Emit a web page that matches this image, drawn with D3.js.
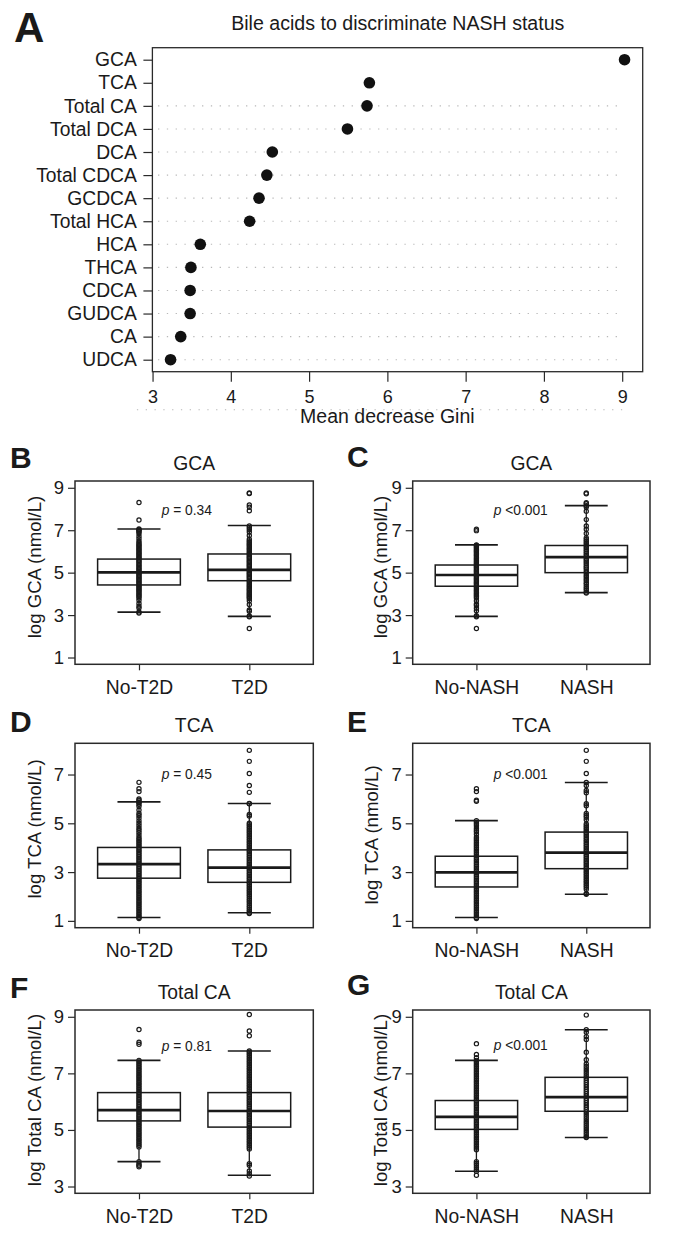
<!DOCTYPE html>
<html><head><meta charset="utf-8">
<script src="https://cdn.jsdelivr.net/npm/d3@7"></script>
<style>
body{margin:0;background:#fff}
svg{display:block}
text{font-family:"Liberation Sans",Arial,Helvetica,sans-serif;fill:#1a1a1a}
</style>
</head><body>
<svg id="chart" width="692" height="1238"></svg>
<script>
// ---------- Panel A data ----------
const dotCategories = ["GCA","TCA","Total CA","Total DCA","DCA","Total CDCA","GCDCA","Total HCA","HCA","THCA","CDCA","GUDCA","CA","UDCA"];
const dotValues = [9.03,5.77,5.74,5.49,4.53,4.46,4.36,4.24,3.61,3.49,3.48,3.48,3.36,3.23];
const dotTicks = [3,4,5,6,7,8,9];
const dotTitle = "Bile acids to discriminate NASH status";
const dotXLabel = "Mean decrease Gini";

// ---------- Box panel data ----------
const panelLetters = ["B","C","D","E","F","G"];
const panelTitles = ["GCA","GCA","TCA","TCA","Total CA","Total CA"];
const panelYLabels = ["log GCA (nmol/L)","log GCA (nmol/L)","log TCA (nmol/L)","log TCA (nmol/L)","log Total CA (nmol/L)","log Total CA (nmol/L)"];
const groupsT2D = ["No-T2D","T2D"];
const groupsNASH = ["No-NASH","NASH"];
const pLabels = [" = 0.34"," <0.001"," = 0.45"," <0.001"," = 0.81"," <0.001"];
const ticksGCA = [1,3,5,7,9];
const ticksTCA = [1,3,5,7];
const ticksTotalCA = [3,5,7,9];
const limsGCA = [1,9];
const limsTCA = [1,8];
const limsTotalCA = [3,9];

// box stats: [lower whisker, Q1, median, Q3, upper whisker]
const statsB = [[3.14,4.42,5.01,5.64,7.06],[2.94,4.62,5.13,5.88,7.22]];
const statsC = [[2.94,4.36,4.89,5.36,6.31],[4.06,5.00,5.73,6.28,8.16]];
const statsD = [[1.14,2.75,3.33,4.01,5.88],[1.33,2.58,3.18,3.91,5.81]];
const statsE = [[1.14,2.39,2.99,3.65,5.11],[2.09,3.14,3.80,4.64,6.67]];
const statsF = [[3.88,5.32,5.70,6.32,7.46],[3.40,5.10,5.67,6.32,7.79]];
const statsG = [[3.54,5.02,5.46,6.04,7.46],[4.73,5.66,6.16,6.86,8.54]];

// individual points
const ptsB_noT2D = [3.10,3.15,3.33,3.42,3.55,3.70,3.80,3.87,3.93,3.99,4.05,4.12,4.18,4.24,4.31,4.37,4.43,4.50,4.56,4.62,4.69,4.75,4.81,4.88,4.94,5.00,5.07,5.13,5.19,5.26,5.32,5.38,5.45,5.51,5.57,5.64,5.70,5.76,5.83,5.89,5.95,6.02,6.08,6.14,6.21,6.27,6.33,6.40,6.48,6.60,6.72,6.85,6.93,6.98,7.02,7.06,7.48,8.31];
const ptsB_T2D = [2.37,2.92,2.96,3.18,3.24,3.50,3.68,3.78,3.84,3.90,3.96,4.02,4.08,4.15,4.21,4.27,4.34,4.40,4.46,4.53,4.59,4.65,4.72,4.78,4.84,4.91,4.97,5.03,5.10,5.16,5.22,5.29,5.35,5.41,5.48,5.54,5.60,5.67,5.73,5.79,5.86,5.92,5.98,6.05,6.11,6.17,6.24,6.30,6.36,6.43,6.50,6.58,6.75,6.92,7.02,7.12,7.20,7.92,8.08,8.19,8.73,8.76];
const ptsC_noNASH = [2.37,2.92,2.97,3.20,3.32,3.45,3.52,3.68,3.80,3.88,3.94,4.00,4.07,4.13,4.19,4.26,4.32,4.38,4.45,4.51,4.57,4.64,4.70,4.76,4.83,4.89,4.95,5.02,5.08,5.14,5.21,5.27,5.33,5.40,5.46,5.52,5.59,5.65,5.71,5.78,5.84,5.90,5.97,6.03,6.09,6.16,6.22,6.28,6.31,6.98,7.05];
const ptsC_NASH = [4.04,4.08,4.18,4.26,4.35,4.45,4.52,4.62,4.70,4.80,4.88,4.98,5.08,5.18,5.25,5.33,5.42,5.50,5.58,5.66,5.75,5.84,5.92,6.00,6.08,6.16,6.24,6.32,6.40,6.48,6.56,6.64,6.85,7.05,7.20,7.50,7.90,8.10,8.16,8.25,8.30,8.72,8.76];
const ptsD_noT2D = [1.10,1.14,1.20,1.27,1.34,1.41,1.48,1.55,1.62,1.69,1.76,1.83,1.90,1.97,2.04,2.11,2.18,2.25,2.32,2.39,2.46,2.53,2.60,2.67,2.74,2.81,2.88,2.95,3.02,3.09,3.16,3.23,3.30,3.37,3.44,3.51,3.58,3.65,3.72,3.79,3.86,3.93,4.00,4.07,4.14,4.21,4.28,4.35,4.42,4.52,4.62,4.72,4.80,4.90,5.00,5.10,5.22,5.32,5.40,5.55,5.70,5.78,5.85,5.88,5.95,6.00,6.30,6.42,6.68];
const ptsD_T2D = [1.30,1.33,1.40,1.47,1.55,1.62,1.70,1.78,1.85,1.92,2.00,2.07,2.14,2.21,2.28,2.35,2.42,2.49,2.56,2.63,2.70,2.77,2.84,2.91,2.98,3.05,3.12,3.19,3.26,3.33,3.40,3.47,3.54,3.61,3.68,3.75,3.82,3.89,3.96,4.03,4.10,4.17,4.24,4.31,4.38,4.45,4.52,4.59,4.66,4.73,4.80,4.87,4.94,5.00,5.30,5.36,5.80,5.81,6.27,6.55,7.04,7.54,7.99];
const ptsE_noNASH = [1.10,1.14,1.21,1.28,1.35,1.42,1.49,1.56,1.63,1.70,1.77,1.84,1.91,1.98,2.05,2.12,2.19,2.26,2.33,2.40,2.47,2.54,2.61,2.68,2.75,2.82,2.89,2.96,3.03,3.10,3.17,3.24,3.31,3.38,3.45,3.52,3.59,3.66,3.73,3.80,3.87,3.94,4.01,4.08,4.15,4.22,4.29,4.36,4.43,4.55,4.65,4.72,4.80,4.90,4.98,5.05,5.11,5.90,5.95,6.30,6.42];
const ptsE_NASH = [2.09,2.12,2.30,2.38,2.45,2.52,2.59,2.66,2.73,2.80,2.87,2.94,3.01,3.08,3.15,3.22,3.29,3.36,3.43,3.50,3.57,3.64,3.71,3.78,3.85,3.92,3.99,4.06,4.13,4.20,4.27,4.34,4.41,4.48,4.55,4.62,4.69,4.76,4.83,4.90,4.97,5.15,5.25,5.32,5.40,5.72,5.80,6.25,6.35,6.55,6.67,7.04,7.54,7.99];
const ptsF_noT2D = [3.70,3.75,3.80,3.88,4.40,4.46,4.52,4.58,4.64,4.70,4.76,4.82,4.88,4.94,5.00,5.06,5.12,5.18,5.24,5.30,5.36,5.42,5.48,5.54,5.60,5.66,5.72,5.78,5.84,5.90,5.96,6.02,6.08,6.14,6.20,6.26,6.32,6.38,6.44,6.50,6.56,6.62,6.68,6.74,6.80,6.86,6.92,6.98,7.04,7.10,7.16,7.22,7.28,7.34,7.40,7.46,8.03,8.10,8.55];
const ptsF_T2D = [3.37,3.45,3.55,3.75,3.81,4.33,4.39,4.45,4.51,4.57,4.63,4.69,4.75,4.81,4.87,4.93,4.99,5.05,5.11,5.17,5.23,5.29,5.35,5.41,5.47,5.53,5.59,5.65,5.71,5.77,5.83,5.89,5.95,6.01,6.07,6.13,6.19,6.25,6.31,6.37,6.43,6.49,6.55,6.61,6.67,6.73,6.79,6.85,6.91,6.97,7.03,7.09,7.15,7.21,7.27,7.33,7.39,7.45,7.51,7.57,7.63,7.69,7.75,7.79,8.33,8.50,9.08];
const ptsG_noNASH = [3.40,3.54,3.60,3.68,3.76,3.82,3.88,4.30,4.36,4.42,4.48,4.54,4.60,4.66,4.72,4.78,4.84,4.90,4.96,5.02,5.08,5.14,5.20,5.26,5.32,5.38,5.44,5.50,5.56,5.62,5.68,5.74,5.80,5.86,5.92,5.98,6.04,6.10,6.16,6.22,6.28,6.34,6.40,6.46,6.52,6.58,6.64,6.70,6.76,6.82,6.88,6.94,7.00,7.06,7.12,7.18,7.24,7.30,7.36,7.42,7.46,7.55,7.67,8.05];
const ptsG_NASH = [4.73,4.76,4.84,4.92,5.00,5.08,5.16,5.24,5.32,5.40,5.48,5.56,5.64,5.72,5.80,5.88,5.96,6.04,6.12,6.20,6.28,6.36,6.44,6.52,6.60,6.68,6.76,6.84,6.92,7.00,7.08,7.16,7.24,7.33,7.48,7.75,8.20,8.30,8.45,8.54,9.06];

// ---------- drawing ----------
const svg = d3.select("#chart");
const INK = "#1a1a1a";
const FONT = '"Liberation Sans",Arial,sans-serif';

// ----- Panel A -----
(function(){
  const x0 = 152.4, x1 = 642.7, y0 = 47.7, y1 = 371.7;
  const n = dotCategories.length;
  const ext = d3.extent(dotValues);
  const pad = (ext[1]-ext[0])*0.04;
  const x = d3.scaleLinear().domain([ext[0]-pad, ext[1]+pad]).range([x0, x1]);
  const y = d3.scaleLinear().domain([1-(n-1)*0.04, n+(n-1)*0.04]).range([y1, y0]);
  const row = i => n - i;
  const g = svg.append("g");

  // dotted guide lines (rows 12..1 inside the box, plus one below the tick labels)
  const guideRows = d3.range(1, n-1);
  g.selectAll("line.guide").data(guideRows).join("line")
    .attr("x1", x(3.07)).attr("x2", x(9))
    .attr("y1", r => y(r)).attr("y2", r => y(r))
    .attr("stroke", "#b8b8b8").attr("stroke-width", 1.1)
    .attr("stroke-dasharray", "1.3,7.5");
  g.append("line").attr("x1", x(2.8)).attr("x2", x(9)).attr("y1", y(-1.17)).attr("y2", y(-1.17))
    .attr("stroke", "#b8b8b8").attr("stroke-width", 1.1).attr("stroke-dasharray", "1.3,7.5");

  g.append("rect").attr("x", x0).attr("y", y0).attr("width", x1-x0).attr("height", y1-y0)
    .attr("fill", "none").attr("stroke", "#2a2a2a").attr("stroke-width", 1.3);

  const ax = g.append("g").attr("transform", `translate(0,${y1})`)
    .call(d3.axisBottom(x).tickValues(dotTicks).tickFormat(d3.format("d")).tickSize(10).tickPadding(8.5));
  ax.select(".domain").remove();
  ax.selectAll("line").attr("stroke", "#2a2a2a").attr("stroke-width", 1.2);
  ax.selectAll("text").attr("font-size", 18).attr("fill", INK).attr("font-family", FONT);

  const ay = g.append("g").attr("transform", `translate(${x0},0)`)
    .call(d3.axisLeft(y).tickValues(dotCategories.map((d,i)=>row(i))).tickFormat(r => dotCategories[n-r]).tickSize(9).tickPadding(6.5));
  ay.select(".domain").remove();
  ay.selectAll("line").attr("stroke", "#2a2a2a").attr("stroke-width", 1.2);
  ay.selectAll("text").attr("font-size", 19.3).attr("fill", INK).attr("font-family", FONT);

  g.selectAll("circle.dot").data(dotValues).join("circle")
    .attr("cx", d => x(d)).attr("cy", (d,i) => y(row(i))).attr("r", 5.8).attr("fill", "#111");

  g.append("text").attr("x", 397.8).attr("y", 30).attr("text-anchor", "middle").attr("font-size", 19.6).text(dotTitle);
  g.append("text").attr("x", (x(3)+x(9))/2).attr("y", 422.7).attr("text-anchor", "middle").attr("font-size", 19.5).text(dotXLabel);
  g.append("text").attr("x", 14).attr("y", 41.7).attr("font-size", 42).attr("font-weight", "bold").text("A");
})();

// ----- Box panels -----
const boxPanels = [
  {groups: groupsT2D,  stats: statsB, pts: [ptsB_noT2D, ptsB_T2D],   ticks: ticksGCA,     lims: limsGCA,
   L: {x0:75, x1:313.3, y0:481, y1:664.3, lx:10, ly:468.3, yx:40.5, yy:567, px:161.7, py:515}},
  {groups: groupsNASH, stats: statsC, pts: [ptsC_noNASH, ptsC_NASH], ticks: ticksGCA,     lims: limsGCA,
   L: {x0:412.7, x1:650, y0:481, y1:664.3, lx:347, ly:466.7, yx:386.5, yy:567, px:493.7, py:515}},
  {groups: groupsT2D,  stats: statsD, pts: [ptsD_noT2D, ptsD_T2D],   ticks: ticksTCA,     lims: limsTCA,
   L: {x0:75, x1:313.3, y0:743.3, y1:927.7, lx:10, ly:731.7, yx:40.5, yy:829, px:161.7, py:779.3}},
  {groups: groupsNASH, stats: statsE, pts: [ptsE_noNASH, ptsE_NASH], ticks: ticksTCA,     lims: limsTCA,
   L: {x0:412.7, x1:650, y0:743.3, y1:927.7, lx:347, ly:731.7, yx:378, yy:835, px:493.7, py:779.3}},
  {groups: groupsT2D,  stats: statsF, pts: [ptsF_noT2D, ptsF_T2D],   ticks: ticksTotalCA, lims: limsTotalCA,
   L: {x0:75, x1:313.3, y0:1010, y1:1193.3, lx:10, ly:997.7, yx:40.5, yy:1100, px:161.7, py:1050.7}},
  {groups: groupsNASH, stats: statsG, pts: [ptsG_noNASH, ptsG_NASH], ticks: ticksTotalCA, lims: limsTotalCA,
   L: {x0:412.7, x1:650, y0:1010, y1:1193.3, lx:347, ly:995, yx:386.5, yy:1100, px:493.7, py:1050}}
];

boxPanels.forEach((p, k) => {
  const L = p.L;
  const g = svg.append("g");
  const span = p.lims[1]-p.lims[0];
  const y = d3.scaleLinear().domain([p.lims[0]-span*0.04, p.lims[1]+span*0.04]).range([L.y1, L.y0]);
  const x = d3.scaleLinear().domain([0.42, 2.58]).range([L.x0, L.x1]);
  const hw = 0.375, sw = 0.195;

  // boxes
  p.stats.forEach((s, i) => {
    const c = i + 1;
    const bg = g.append("g");
    bg.append("line").attr("x1", x(c)).attr("x2", x(c)).attr("y1", y(s[0])).attr("y2", y(s[1]))
      .attr("stroke", INK).attr("stroke-width", 1.3);
    bg.append("line").attr("x1", x(c)).attr("x2", x(c)).attr("y1", y(s[3])).attr("y2", y(s[4]))
      .attr("stroke", INK).attr("stroke-width", 1.3);
    [s[0], s[4]].forEach(v => bg.append("line").attr("x1", x(c-sw)).attr("x2", x(c+sw))
      .attr("y1", y(v)).attr("y2", y(v)).attr("stroke", INK).attr("stroke-width", 1.6));
    bg.append("rect").attr("x", x(c-hw)).attr("width", x(c+hw)-x(c-hw))
      .attr("y", y(s[3])).attr("height", y(s[1])-y(s[3]))
      .attr("fill", "#fff").attr("stroke", INK).attr("stroke-width", 1.5);
    bg.append("line").attr("x1", x(c-hw)).attr("x2", x(c+hw)).attr("y1", y(s[2])).attr("y2", y(s[2]))
      .attr("stroke", INK).attr("stroke-width", 2.7);
  });

  // points
  p.pts.forEach((arr, i) => {
    g.append("g").selectAll("circle").data(arr).join("circle")
      .attr("cx", x(i+1)).attr("cy", d => y(d)).attr("r", 2.1)
      .attr("fill", "none").attr("stroke", "#1a1a1a").attr("stroke-width", 1.2);
  });

  // frame
  g.append("rect").attr("x", L.x0).attr("y", L.y0).attr("width", L.x1-L.x0).attr("height", L.y1-L.y0)
    .attr("fill", "none").attr("stroke", "#2a2a2a").attr("stroke-width", 1.5);

  const ay = g.append("g").attr("transform", `translate(${L.x0},0)`)
    .call(d3.axisLeft(y).tickValues(p.ticks).tickFormat(d3.format("d")).tickSize(7).tickPadding(4));
  ay.select(".domain").remove();
  ay.selectAll("line").attr("stroke", "#2a2a2a").attr("stroke-width", 1.2);
  ay.selectAll("text").attr("font-size", 18.5).attr("fill", INK).attr("font-family", FONT);

  const ax = g.append("g").attr("transform", `translate(0,${L.y1})`)
    .call(d3.axisBottom(x).tickValues([1,2]).tickFormat((d,i) => p.groups[i]).tickSize(6).tickPadding(10));
  ax.select(".domain").remove();
  ax.selectAll("line").attr("stroke", "#2a2a2a").attr("stroke-width", 1.2);
  ax.selectAll("text").attr("font-size", 19.3).attr("fill", INK).attr("font-family", FONT);

  // title
  g.append("text").attr("x", (L.x0+L.x1)/2).attr("y", L.y0-11).attr("text-anchor", "middle")
    .attr("font-size", 19.3).text(panelTitles[k]);
  // y label
  g.append("text").attr("transform", `translate(${L.yx},${L.yy}) rotate(-90)`).attr("text-anchor", "middle")
    .attr("font-size", 18.6).text(panelYLabels[k]);
  // p value
  const pt = g.append("text").attr("x", L.px).attr("y", L.py).attr("font-size", 13.8);
  pt.append("tspan").attr("font-style", "italic").text("p");
  pt.append("tspan").text(pLabels[k]);
  // letter
  g.append("text").attr("x", L.lx).attr("y", L.ly).attr("font-size", 30).attr("font-weight", "bold").text(panelLetters[k]);
});
</script>
</body></html>
